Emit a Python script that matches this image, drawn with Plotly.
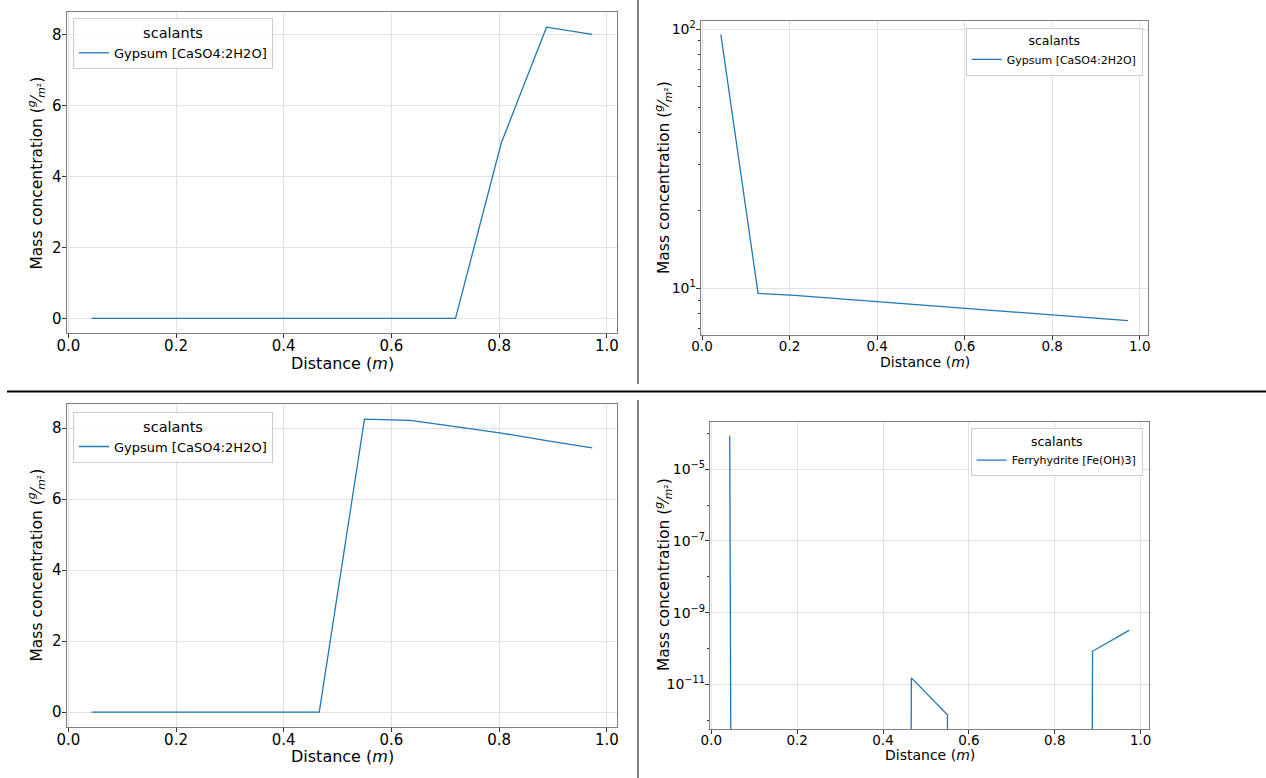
import plotly.graph_objects as go

# ---------------- data ----------------
distance = [0.043, 0.128, 0.212, 0.297, 0.381, 0.466, 0.550, 0.635, 0.719, 0.804, 0.888, 0.973]

gypsum_top_left = [0, 0, 0, 0, 0, 0, 0, 0, 0, 4.95, 8.22, 8.02]
gypsum_top_right = [95.4, 9.56, 9.40, 9.17, 8.95, 8.72, 8.50, 8.30, 8.10, 7.92, 7.72, 7.50]
gypsum_bottom_left = [0, 0, 0, 0, 0, 0, 8.25, 8.22, 8.04, 7.86, 7.65, 7.44]
ferrihydrite_bottom_right = [8.7e-5, 0, 0, 0, 0, 1.5e-11, 1.4e-12, 0, 0, 0, 8.3e-11, 3.2e-10]

x_tick_vals = [0.0, 0.2, 0.4, 0.6, 0.8, 1.0]
x_tick_text = ["0.0", "0.2", "0.4", "0.6", "0.8", "1.0"]
lin_y_tick_vals = [0, 2, 4, 6, 8]
tr_y_tick_vals = [10, 100]
tr_y_tick_text = ["10<sup>1</sup>", "10<sup>2</sup>"]
tr_minor_vals = [7, 8, 9, 20, 30, 40, 50, 60, 70, 80, 90]
br_y_tick_vals = [1e-11, 1e-9, 1e-7, 1e-5]
br_y_tick_text = ["10<sup>\u221211</sup>", "10<sup>\u22129</sup>", "10<sup>\u22127</sup>", "10<sup>\u22125</sup>"]
br_minor_vals = [1e-12, 1e-10, 1e-8, 1e-6, 1e-4]

legend_title = "scalants"
name_gypsum = "Gypsum [CaSO4:2H2O]"
name_ferri = "Ferryhydrite [Fe(OH)3]"
x_title = "Distance (<i>m</i>)"
y_title = "Mass concentration (<sup><i>g</i></sup>\u2044<sub><i>m</i>\u00b2</sub>)"

# ---------------- helpers ----------------
W, H = 1266, 778
FONT = "DejaVu Sans"
BLUE = "#1f77b4"
LOG_FLOOR = 1e-300  # mimic matplotlib's clipping of non-positive values on log axes


def fx(p):
    return p / W


def fy(p):
    return 1 - p / H


def clip_log(vals):
    return [v if v > 0 else LOG_FLOOR for v in vals]


fig = go.Figure()

fig.add_trace(go.Scatter(x=distance, y=gypsum_top_left, mode="lines", name=name_gypsum,
                         line=dict(color=BLUE, width=1.3), xaxis="x", yaxis="y", legend="legend"))
fig.add_trace(go.Scatter(x=distance, y=clip_log(gypsum_top_right), mode="lines", name=name_gypsum,
                         line=dict(color=BLUE, width=1.3), xaxis="x2", yaxis="y2", legend="legend2"))
fig.add_trace(go.Scatter(x=distance, y=gypsum_bottom_left, mode="lines", name=name_gypsum,
                         line=dict(color=BLUE, width=1.3), xaxis="x3", yaxis="y3", legend="legend3"))
fig.add_trace(go.Scatter(x=distance, y=clip_log(ferrihydrite_bottom_right), mode="lines", name=name_ferri,
                         line=dict(color=BLUE, width=1.3), xaxis="x4", yaxis="y4", legend="legend4"))

common = dict(showline=True, linecolor="#7f7f7f", linewidth=1.4, mirror=True,
              ticks="outside", ticklen=4, tickcolor="#333333", tickwidth=1,
              showgrid=True, gridcolor="#e2e2e2", gridwidth=1, zeroline=False,
              automargin=False)


def xax(left, right, anchor, fs):
    return dict(domain=[fx(left), fx(right)], anchor=anchor, range=[-0.003, 1.0195],
                tickmode="array", tickvals=x_tick_vals, ticktext=x_tick_text,
                ticklabelstandoff=-5,
                tickfont=dict(size=fs, color="black", family=FONT), **common)


def yax_lin(top, bottom, anchor, rng, fs):
    return dict(domain=[fy(bottom), fy(top)], anchor=anchor, range=rng,
                tickmode="array", tickvals=lin_y_tick_vals, ticklabelstandoff=-3,
                tickfont=dict(size=fs, color="black", family=FONT), **common)


layout = dict(
    width=W, height=H, autosize=False, showlegend=True,
    margin=dict(l=0, r=0, t=0, b=0, pad=0),
    paper_bgcolor="white", plot_bgcolor="white",
    font=dict(family=FONT, color="black"),
    xaxis=xax(66.7, 617.3, "y", 15),
    yaxis=yax_lin(12.3, 333, "x", [-0.41, 8.64], 15),
    xaxis2=xax(700.7, 1148.3, "y2", 13.5),
    yaxis2=dict(domain=[fy(335), fy(20.7)], anchor="x2", type="log", range=[0.82, 2.032],
                tickmode="array", tickvals=tr_y_tick_vals, ticktext=tr_y_tick_text,
                ticklabelstandoff=-3,
                tickfont=dict(size=14, color="black", family=FONT),
                minor=dict(tickmode="array", tickvals=tr_minor_vals, ticks="outside", ticklen=2,
                           tickcolor="#333333", showgrid=False),
                **common),
    xaxis3=xax(66.7, 617.3, "y3", 15),
    yaxis3=yax_lin(404.3, 726.7, "x3", [-0.41, 8.67], 15),
    xaxis4=xax(710, 1149, "y4", 13.5),
    yaxis4=dict(domain=[fy(729), fy(421.7)], anchor="x4", type="log", range=[-12.25, -3.67],
                tickmode="array", tickvals=br_y_tick_vals, ticktext=br_y_tick_text,
                ticklabelstandoff=-3,
                tickfont=dict(size=14, color="black", family=FONT),
                minor=dict(tickmode="array", tickvals=br_minor_vals, ticks="outside", ticklen=2,
                           tickcolor="#333333", showgrid=False),
                **common),
)


def legend(x, y, xanchor, fs, tfs):
    return dict(x=x, y=y, xanchor=xanchor, yanchor="top", xref="paper", yref="paper",
                bgcolor="rgba(255,255,255,0.85)", bordercolor="#cccccc", borderwidth=1,
                font=dict(size=fs, family=FONT, color="black"),
                title=dict(text=legend_title, side="top center",
                           font=dict(size=tfs, family=FONT, color="black")),
                itemwidth=30, tracegroupgap=0, visible=True)


layout["legend"] = legend(fx(73), fy(18), "left", 13, 14.5)
layout["legend2"] = legend(fx(1142.7), fy(27.7), "right", 11, 12.5)
layout["legend3"] = legend(fx(73), fy(411.7), "left", 13, 14.5)
layout["legend4"] = legend(fx(1142.7), fy(428.3), "right", 11, 12.5)


def ann_x(cx, cy, fs):
    return dict(text=x_title, x=fx(cx), y=fy(cy), xref="paper", yref="paper",
                xanchor="center", yanchor="middle", showarrow=False,
                font=dict(size=fs, family=FONT, color="black"))


def ann_y(cx, cy, fs):
    return dict(text=y_title, x=fx(cx), y=fy(cy), xref="paper", yref="paper",
                xanchor="center", yanchor="middle", showarrow=False, textangle=-90,
                font=dict(size=fs, family=FONT, color="black"))


layout["annotations"] = [
    ann_x(342, 363, 16), ann_y(37, 173.5, 15.5),
    ann_x(924.5, 362, 14), ann_y(663, 178, 15.5),
    ann_x(342, 756, 16), ann_y(37, 565.5, 15.5),
    ann_x(929.5, 755, 14), ann_y(663, 575, 15.5),
]

layout["shapes"] = [
    dict(type="line", xref="paper", yref="paper", x0=fx(638), x1=fx(638), y0=fy(0), y1=fy(384),
         line=dict(color="#555555", width=1.5)),
    dict(type="line", xref="paper", yref="paper", x0=fx(638), x1=fx(638), y0=fy(400), y1=fy(778),
         line=dict(color="#555555", width=1.5)),
    dict(type="line", xref="paper", yref="paper", x0=fx(7), x1=1, y0=fy(391.5), y1=fy(391.5),
         line=dict(color="black", width=2)),
]

fig.update_layout(**layout)
fig.write_html("out.html", config={"displayModeBar": False},
               post_script="document.body.style.margin='0';document.body.style.padding='0';")
